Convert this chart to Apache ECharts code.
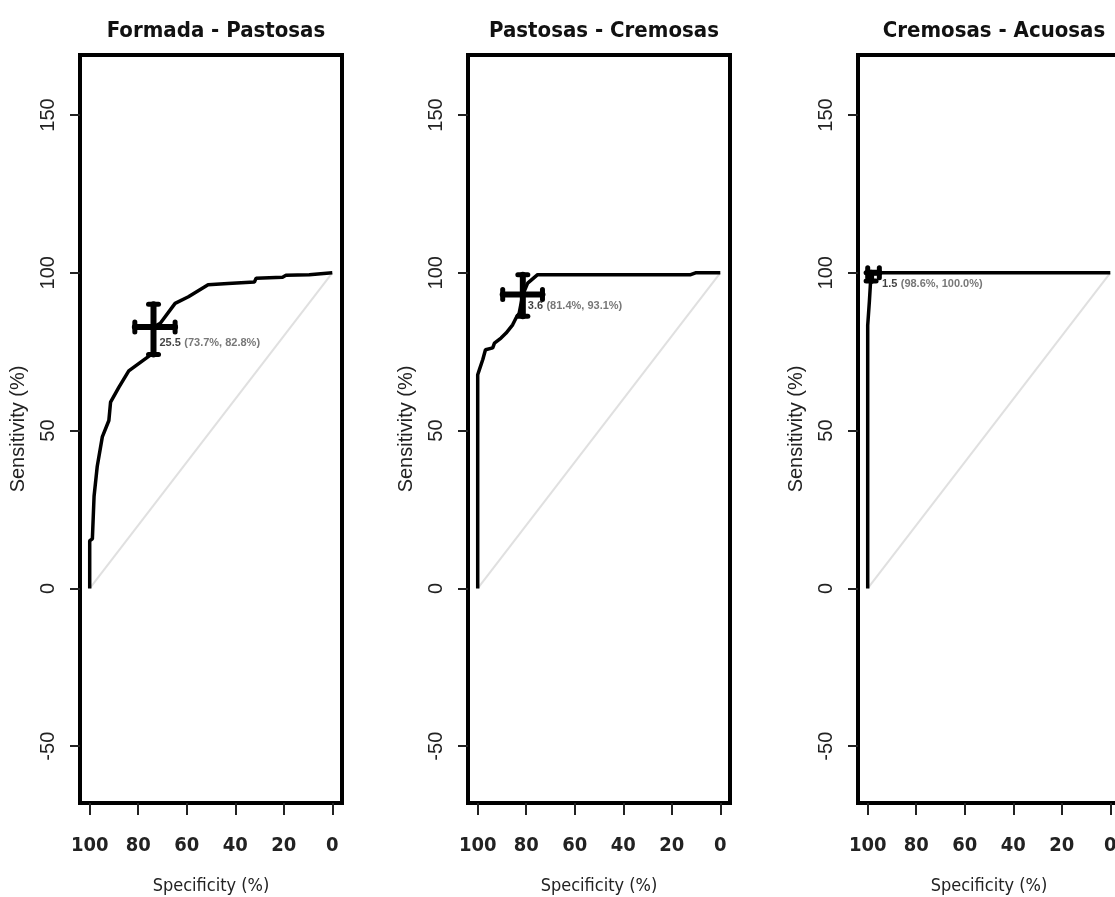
<!DOCTYPE html>
<html><head><meta charset="utf-8">
<script src="https://cdn.jsdelivr.net/npm/echarts@6/dist/echarts.min.js"></script>
<style>html,body{margin:0;padding:0;background:#fff}#c{width:1115px;height:897px}</style>
</head><body><div id="c"></div>
<script>
// ---- data ----
const titles = ['Formada - Pastosas', 'Pastosas - Cremosas', 'Cremosas - Acuosas'];
const xTicks = [100, 80, 60, 40, 20, 0];
const yTicks = [-50, 0, 50, 100, 150];
const xName = 'Specificity (%)';
const yName = 'Sensitivity (%)';
// ROC curves: [specificity %, sensitivity %]
const roc1 = [[100,0],[100,15.1],[98.9,15.7],[98.2,29.2],[96.9,38.6],[94.8,48],[92.1,53.2],[91.4,59],[88,63.7],[83.9,68.9],[78.4,72],[73.7,74.6],[73.7,82.8],[70.9,84],[64.8,90.3],[59.3,92.4],[51.2,96.2],[43,96.6],[32.1,97.1],[31.4,98.3],[20.5,98.6],[19.1,99.2],[9.5,99.4],[8.9,100],[0,100]];
const roc2 = [[100,0],[100,67.7],[99.3,69.3],[97.9,72.5],[96.8,75.6],[93.8,76.2],[93.1,77.7],[90.4,79.3],[88.3,80.9],[85.6,83.5],[84.2,85.7],[82.9,87.2],[81.4,93.1],[79.4,96.7],[75.3,99.4],[12.2,99.4],[10.2,100],[0,100]];
const roc3 = [[100,0],[100,83.3],[99.3,83.3],[99.3,91],[98.6,91],[98.6,100],[0,100]];
const diagonal = [[100,0],[0,100]];
// best thresholds
const thresholds = ['25.5', '3.6', '1.5'];
const bestPoints = [[73.7, 82.8], [81.4, 93.1], [98.6, 100]];
const specCI = [[64.8, 81.4], [73.3, 89.7], [95.2, 100]];
const sensCI = [[74.1, 90.0], [86.2, 99.4], [97.4, 100]];

// ---- layout ----
const rocs = [roc1, roc2, roc3];
const lefts = [80, 468, 858];
const gridTop = 55, gridW = 262, gridH = 748;
const labelOffsets = [[6, 10], [5, 5], [11, 5]];
const narrow = "'Liberation Sans Narrow', 'DejaVu Sans Condensed', 'Arial Narrow', sans-serif";
const sans = "'Liberation Sans', Arial, sans-serif";

const grid = [], xAxis = [], yAxis = [], title = [], series = [];
for (let i = 0; i < 3; i++) {
  grid.push({left: lefts[i], top: gridTop, width: gridW, height: gridH, show: true,
    borderColor: '#000', borderWidth: 4, backgroundColor: 'transparent',
    containLabel: false, outerBoundsMode: 'none'});
  title.push({text: titles[i], left: lefts[i] + gridW / 2, top: 15, textAlign: 'center',
    textStyle: {fontFamily: narrow, fontSize: 22, fontWeight: 'bold', color: '#111'}});
  xAxis.push({type: 'value', gridIndex: i, inverse: true, min: -4, max: 104,
    name: xName, nameLocation: 'middle', nameGap: 74,
    nameTextStyle: {fontFamily: narrow, fontSize: 18, color: '#222'},
    axisLine: {show: false, onZero: false}, splitLine: {show: false},
    axisTick: {show: true, length: 12, customValues: xTicks, lineStyle: {color: '#222', width: 2}},
    axisLabel: {customValues: xTicks, margin: 33, fontFamily: narrow, fontSize: 20, fontWeight: 'bold', color: '#222'}});
  yAxis.push({type: 'value', gridIndex: i, min: -68, max: 169,
    name: yName, nameLocation: 'middle', nameGap: 52,
    nameTextStyle: {fontFamily: sans, fontSize: 20, color: '#222'},
    axisLine: {show: false, onZero: false}, splitLine: {show: false},
    axisTick: {show: true, length: 10, customValues: yTicks, lineStyle: {color: '#222', width: 2}},
    axisLabel: {customValues: yTicks, rotate: 90, margin: 22, fontFamily: sans, fontSize: 20, color: '#222'}});
  series.push({type: 'line', xAxisIndex: i, yAxisIndex: i, data: diagonal, showSymbol: false, silent: true,
    lineStyle: {color: '#e0e0e0', width: 2}, z: 1});
  series.push({type: 'line', xAxisIndex: i, yAxisIndex: i, data: rocs[i], showSymbol: false, silent: true,
    lineStyle: {color: '#000', width: 3.5}, z: 3});
  series.push({type: 'custom', xAxisIndex: i, yAxisIndex: i, z: 4,
    data: [[bestPoints[i][0], bestPoints[i][1], specCI[i][0], specCI[i][1], sensCI[i][0], sensCI[i][1]]],
    encode: {x: [0, 2, 3], y: [1, 4, 5]},
    renderItem: function (params, api) {
      const x = api.value(0), y = api.value(1);
      const pL = api.coord([api.value(2), y]), pR = api.coord([api.value(3), y]);
      const pB = api.coord([x, api.value(4)]), pT = api.coord([x, api.value(5)]);
      const st = {stroke: '#000', lineWidth: 6, lineCap: 'round'};
      const cs = {stroke: '#000', lineWidth: 5, lineCap: 'round'};
      const c = 5;
      return {type: 'group', children: [
        {type: 'line', shape: {x1: pL[0], y1: pL[1], x2: pR[0], y2: pR[1]}, style: st},
        {type: 'line', shape: {x1: pB[0], y1: pB[1], x2: pT[0], y2: pT[1]}, style: st},
        {type: 'line', shape: {x1: pL[0], y1: pL[1] - c, x2: pL[0], y2: pL[1] + c}, style: cs},
        {type: 'line', shape: {x1: pR[0], y1: pR[1] - c, x2: pR[0], y2: pR[1] + c}, style: cs},
        {type: 'line', shape: {x1: pB[0] - c, y1: pB[1], x2: pB[0] + c, y2: pB[1]}, style: cs},
        {type: 'line', shape: {x1: pT[0] - c, y1: pT[1], x2: pT[0] + c, y2: pT[1]}, style: cs}
      ]};
    }});
  const thr = thresholds[i], sp = bestPoints[i][0].toFixed(1), se = bestPoints[i][1].toFixed(1);
  series.push({type: 'scatter', xAxisIndex: i, yAxisIndex: i, symbolSize: 0, silent: true, z: 5,
    data: [bestPoints[i]],
    label: {show: true, position: labelOffsets[i], align: 'left', verticalAlign: 'top',
      formatter: '{a|' + thr + '} {b|(' + sp + '%, ' + se + '%)}',
      rich: {a: {fontFamily: sans, fontSize: 11, fontWeight: 'bold', color: '#111'},
             b: {fontFamily: sans, fontSize: 11, fontWeight: 'bold', color: '#555'}}}});
}

const chart = echarts.init(document.getElementById('c'), null, {renderer: 'canvas'});
chart.setOption({animation: false, backgroundColor: '#fff', title, grid, xAxis, yAxis, series});
</script></body></html>
